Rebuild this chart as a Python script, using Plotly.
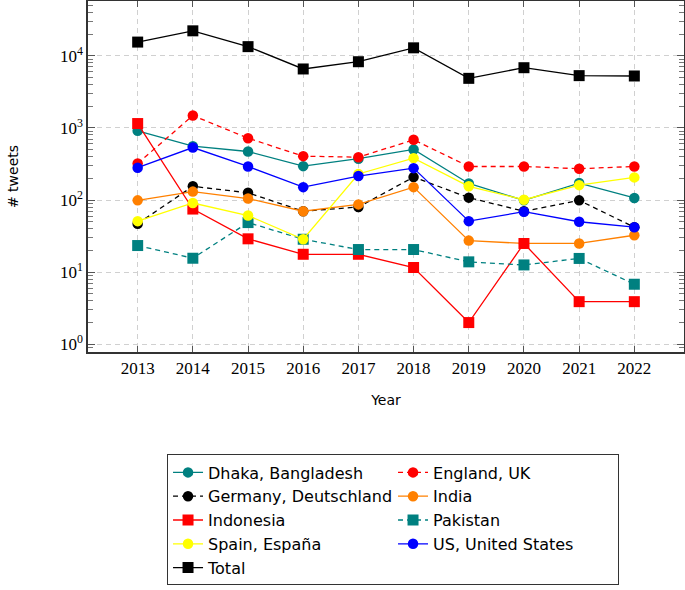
import plotly.graph_objects as go

years = [2013, 2014, 2015, 2016, 2017, 2018, 2019, 2020, 2021, 2022]

dhaka = [912, 558, 471, 295, 374, 503, 170, 99, 172, 107]
england = [322, 1485, 720, 406, 393, 684, 292, 292, 272, 292]
germany = [47, 155, 126, 70, 80, 208, 108, 70, 99, 42]
india = [99, 131, 105, 70, 87, 151, 27.4, 25, 25, 32.5]
indonesia = [1150, 75, 29, 17.7, 17.7, 11.6, 2, 25, 3.9, 3.9]
pakistan = [23.4, 15.6, 48.7, 28.6, 20.6, 20.6, 13.9, 12.6, 15.5, 6.8]
spain = [51, 91, 61, 28.6, 230, 381, 155, 101, 161, 206]
us = [281, 535, 292, 151, 215, 277, 51, 69, 50, 42]
total = [15500, 22200, 13400, 6570, 8280, 12900, 4870, 6840, 5310, 5250]

y_tickvals = [1, 10, 100, 1000, 10000]
y_ticktext = ["10<sup>0</sup>", "10<sup>1</sup>", "10<sup>2</sup>", "10<sup>3</sup>", "10<sup>4</sup>"]

series = [
    ("Dhaka, Bangladesh", dhaka, "#008080", "solid", "circle"),
    ("England, UK", england, "#ff0000", "5px,4px", "circle"),
    ("Germany, Deutschland", germany, "#000000", "5px,4px", "circle"),
    ("India", india, "#ff8000", "solid", "circle"),
    ("Indonesia", indonesia, "#ff0000", "solid", "square"),
    ("Pakistan", pakistan, "#008080", "5px,4px", "square"),
    ("Spain, España", spain, "#ffff00", "solid", "circle"),
    ("US, United States", us, "#0000ff", "solid", "circle"),
    ("Total", total, "#000000", "solid", "square"),
]

fig = go.Figure()
for name, vals, color, dash, sym in series:
    fig.add_trace(go.Scatter(
        x=years, y=vals, name=name, mode="lines+markers",
        line=dict(color=color, width=1.3, dash=dash),
        marker=dict(color=color, symbol=sym, size=11 if sym == "square" else 10.5,
                    line=dict(width=0)),
    ))

serif = "Liberation Serif"
sans = "DejaVu Sans"

fig.update_layout(
    width=685, height=590,
    margin=dict(l=88, r=1, t=1, b=238, autoexpand=False),
    paper_bgcolor="white", plot_bgcolor="white",
    font=dict(family=sans, size=14, color="#000000"),
    xaxis=dict(
        range=[2012.1, 2022.9], tickmode="array", tickvals=years,
        ticktext=[str(y) for y in years],
        tickfont=dict(family=serif, size=17),
        ticks="inside", ticklen=6, tickcolor="#555555",
        showline=True, linecolor="#333333", linewidth=1.5, mirror="ticks",
        showgrid=True, gridcolor="#d0d0d0", griddash="5px,4px", gridwidth=1,
        zeroline=False, automargin=False,
        title=dict(text="Year", font=dict(family=sans, size=14), standoff=18),
    ),
    yaxis=dict(
        type="log", range=[-0.107, 4.76],
        tickmode="array", tickvals=y_tickvals, ticktext=y_ticktext,
        tickfont=dict(family=serif, size=17),
        ticks="inside", ticklen=7, tickcolor="#555555",
        minor=dict(ticks="inside", ticklen=5, tickcolor="#777777", showgrid=False,
                   tickmode="array",
                   tickvals=[m * 10 ** e for e in range(-1, 5) for m in range(2, 10)]),
        showline=True, linecolor="#333333", linewidth=1.5, mirror="ticks",
        showgrid=True, gridcolor="#d0d0d0", griddash="5px,4px", gridwidth=1,
        zeroline=False, automargin=False,
        title=dict(text="# tweets", font=dict(family=sans, size=14), standoff=38),
    ),
    legend=dict(
        orientation="h", x=0.1326, y=-0.292, xanchor="left", yanchor="top",
        entrywidth=180, entrywidthmode="pixels",
        bordercolor="#333333", borderwidth=1, bgcolor="white",
        font=dict(family=sans, size=16), traceorder="normal",
        itemwidth=30,
    ),
)

fig.write_html("out.html", config={"displayModeBar": False},
               post_script="document.body.style.margin='0px';")
